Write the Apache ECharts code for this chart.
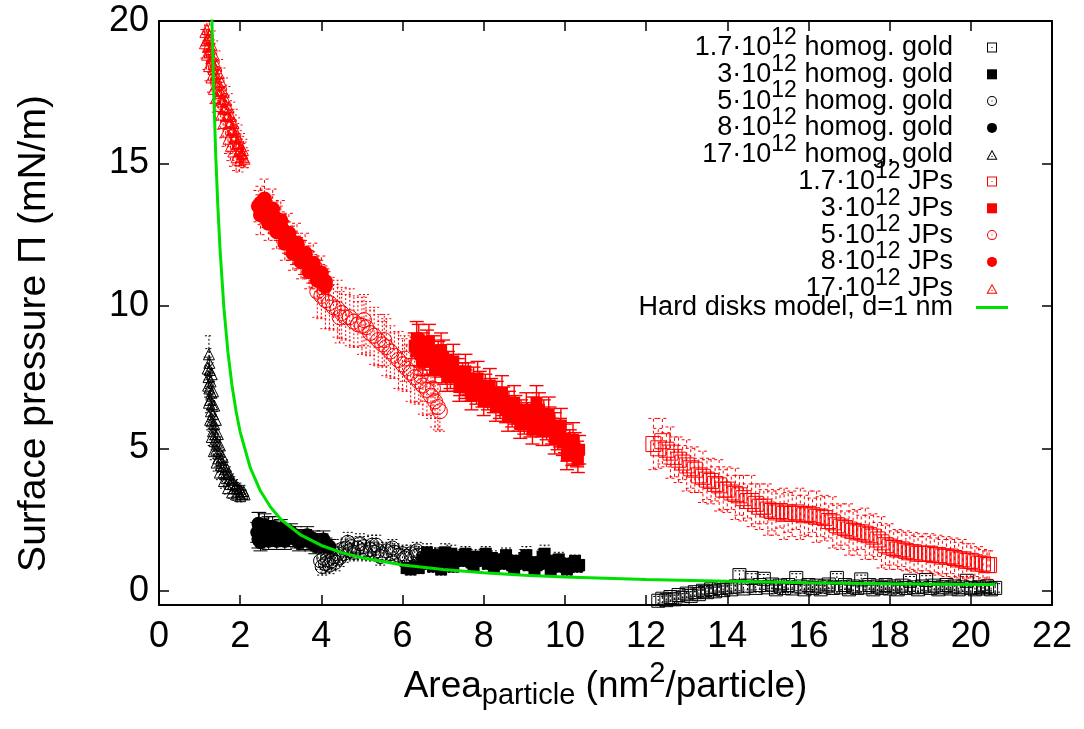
<!DOCTYPE html>
<html><head><meta charset="utf-8">
<script src="https://cdn.jsdelivr.net/npm/echarts@6/dist/echarts.min.js"></script>
<style>html,body{margin:0;padding:0;background:#fff}#c{width:1084px;height:729px}</style>
</head><body><div id="c"></div>
<script>
// ---- tick labels ----
const xTicks = [0,2,4,6,8,10,12,14,16,18,20,22];
const yTicks = [0,5,10,15,20];

// ---- series names ----
const names = [
  '1.7·10^12 homog. gold','3·10^12 homog. gold','5·10^12 homog. gold','8·10^12 homog. gold','17·10^12 homog. gold',
  '1.7·10^12 JPs','3·10^12 JPs','5·10^12 JPs','8·10^12 JPs','17·10^12 JPs'
];
const modelName = 'Hard disks model, d=1 nm';

// ---- data: [area, pressure, error] ----
const gold17 = [[1.23,8.3,0.65],[1.24,8.0,0.5],[1.25,7.75,0.45],[1.22,7.5,0.4],[1.27,7.35,0.45],[1.24,7.1,0.4],[1.29,6.95,0.4],[1.26,6.7,0.35],[1.31,6.55,0.4],[1.28,6.3,0.35],[1.33,6.2,0.35],[1.3,5.95,0.35],[1.36,5.85,0.35],[1.33,5.6,0.3],[1.39,5.5,0.35],[1.37,5.25,0.3],[1.43,5.2,0.3],[1.41,4.95,0.3],[1.48,4.9,0.3],[1.46,4.65,0.3],[1.53,4.6,0.3],[1.52,4.4,0.25],[1.59,4.38,0.3],[1.59,4.15,0.25],[1.66,4.15,0.25],[1.67,3.95,0.25],[1.74,3.95,0.25],[1.76,3.75,0.2],[1.83,3.75,0.25],[1.86,3.6,0.2],[1.92,3.6,0.2],[1.96,3.48,0.2],[2.02,3.5,0.2],[2.06,3.4,0.15],[2.11,3.38,0.15],
  [1.3,7.6,0.4],[1.33,7.0,0.35],[1.36,6.5,0.3],[1.4,6.0,0.3],[1.45,5.5,0.3],[1.5,5.1,0.3],[1.57,4.7,0.25],[1.65,4.35,0.25],[1.72,4.1,0.25],[1.8,3.9,0.2],[1.9,3.7,0.2],[1.98,3.58,0.2],[2.08,3.5,0.2],
  [1.2,7.8,0.4],[1.21,7.2,0.4],[1.23,6.6,0.35],[1.26,6.0,0.35],[1.3,5.4,0.3],[1.35,4.9,0.3],[1.42,4.5,0.3],[1.5,4.15,0.25],[1.6,3.85,0.25],[1.7,3.6,0.2],[1.8,3.45,0.2],[1.9,3.38,0.2],[2.0,3.32,0.2]];
const gold8 = [[2.42,2.05,0.35],[2.45,1.8,0.3],[2.47,2.3,0.45],[2.5,1.95,0.3],[2.55,2.15,0.4],[2.6,1.9,0.3],[2.65,2.1,0.35],[2.7,2.2,0.4],[2.75,1.95,0.3],[2.8,2.1,0.35],[2.85,1.9,0.3],[2.9,2.05,0.35],[2.95,1.85,0.3],[3.0,2.0,0.35],[3.05,1.9,0.3],[3.1,2.0,0.3],[3.15,1.85,0.3],[3.2,1.95,0.3],[3.3,1.85,0.3],[3.35,1.95,0.3],[3.4,1.8,0.3],[3.5,1.85,0.3],[3.55,1.75,0.3],[3.6,1.85,0.3],[3.7,1.75,0.3],[3.75,1.7,0.3],[3.8,1.8,0.3],[3.9,1.7,0.3],[3.95,1.65,0.3],[4.0,1.7,0.3],[4.1,1.6,0.25],[4.2,1.55,0.25],
  [2.45,2.35,0.4],[2.5,1.7,0.3],[2.6,2.3,0.4],[2.7,1.75,0.3],[2.8,2.25,0.35],[2.9,1.75,0.3],[3.0,2.15,0.35],[3.1,1.75,0.3],[3.25,2.05,0.3],[3.45,1.7,0.3],[3.65,1.95,0.3],[3.85,1.6,0.3],[4.05,1.8,0.3]];
const gold5 = [[3.98,1.05,0.3],[4.02,0.85,0.3],[4.06,1.15,0.3],[4.1,0.95,0.3],[4.15,1.1,0.3],[4.2,0.9,0.3],[4.25,1.05,0.3],[4.3,1.2,0.3],[4.35,1.0,0.3],[4.4,1.3,0.35],[4.45,1.15,0.3],[4.5,1.45,0.35],[4.55,1.3,0.3],[4.6,1.5,0.35],[4.7,1.4,0.3],[4.75,1.55,0.35],[4.8,1.35,0.3],[4.9,1.5,0.35],[5.0,1.4,0.3],[5.05,1.55,0.35],[5.1,1.35,0.3],[5.2,1.45,0.3],[5.3,1.35,0.3],[5.35,1.6,0.35],[5.4,1.4,0.3],[5.5,1.3,0.3],[5.6,1.4,0.3],[5.7,1.3,0.3],[5.8,1.35,0.3],[5.9,1.25,0.3],[6.0,1.3,0.3],[6.1,1.2,0.3],[6.2,1.3,0.3],[6.3,1.2,0.3],[6.4,1.25,0.3],[6.5,1.15,0.3],[6.6,1.25,0.3],[6.7,1.15,0.3],[6.8,1.2,0.3],[6.9,1.1,0.3],[6.95,1.2,0.3],
  [4.65,1.7,0.35],[4.95,1.65,0.35],[5.25,1.6,0.35],[5.45,1.2,0.3],[5.75,1.5,0.3],[6.05,1.15,0.3],[6.35,1.4,0.3],[6.65,1.05,0.3]];
const gold3 = [[6.1,0.8,0.2],[6.2,0.75,0.2],[6.3,0.85,0.2],[6.4,0.8,0.2],[6.5,1.1,0.25],[6.55,0.95,0.2],[6.6,1.2,0.25],[6.7,1.05,0.2],[6.8,1.25,0.25],[6.85,0.9,0.2],[6.9,1.15,0.2],[6.95,0.75,0.2],[7.0,1.1,0.2],[7.1,1.2,0.25],[7.15,1.0,0.2],[7.2,1.3,0.3],[7.3,1.1,0.2],[7.4,1.2,0.25],[7.5,1.05,0.2],[7.6,1.15,0.2],[7.7,1.0,0.2],[7.8,1.2,0.25],[7.9,1.05,0.2],[8.0,1.1,0.2],[8.1,0.95,0.2],[8.2,1.15,0.25],[8.3,1.0,0.2],[8.4,1.1,0.2],[8.5,0.95,0.2],[8.6,1.05,0.2],[8.7,0.9,0.2],[8.8,1.05,0.2],[8.9,0.95,0.2],[9.0,1.15,0.3],[9.1,0.9,0.2],[9.2,1.0,0.2],[9.3,0.9,0.2],[9.4,1.0,0.2],[9.5,1.3,0.3],[9.55,0.95,0.2],[9.6,1.05,0.2],[9.7,0.9,0.2],[9.8,0.95,0.2],[9.9,0.85,0.2],[10.0,0.95,0.2],[10.1,0.85,0.2],[10.2,0.9,0.2],[10.3,0.85,0.2],[10.35,0.9,0.2],
  [6.6,1.35,0.3],[6.75,0.85,0.2],[7.05,1.35,0.3],[7.25,0.85,0.2],[7.55,1.3,0.25],[7.75,0.85,0.2],[8.05,1.3,0.25],[8.25,0.8,0.2],[8.55,1.25,0.25],[8.75,0.8,0.2],[9.05,1.25,0.3],[9.25,0.75,0.2],[9.45,1.2,0.25],[9.65,0.75,0.2],[9.85,1.1,0.25],[10.05,0.75,0.2],[10.25,1.05,0.2]];
const gold1p7 = [[12.3,-0.35,0.15],[12.4,-0.28,0.15],[12.5,-0.33,0.15],[12.6,-0.22,0.15],[12.7,-0.3,0.15],[12.8,-0.15,0.15],[12.9,-0.25,0.15],[13.0,-0.1,0.15],[13.1,-0.18,0.15],[13.2,-0.05,0.15],[13.3,-0.12,0.15],[13.4,0.0,0.15],[13.5,-0.05,0.15],[13.6,0.05,0.15],[13.7,-0.02,0.15],[13.8,0.1,0.15],[13.9,0.02,0.15],[14.0,0.12,0.15],[14.1,0.05,0.15],[14.2,0.15,0.15],[14.3,0.55,0.15],[14.4,0.08,0.15],[14.5,0.18,0.15],[14.6,0.45,0.15],[14.7,0.1,0.15],[14.8,0.2,0.15],[14.9,0.42,0.15],[15.0,0.12,0.15],[15.1,0.22,0.15],[15.2,0.05,0.15],[15.3,0.18,0.15],[15.4,0.1,0.15],[15.5,0.2,0.15],[15.6,0.08,0.15],[15.7,0.45,0.15],[15.8,0.15,0.15],[15.9,0.05,0.15],[16.0,0.2,0.15],[16.1,0.1,0.15],[16.2,0.18,0.15],[16.3,0.05,0.15],[16.4,0.15,0.15],[16.5,0.22,0.15],[16.6,0.1,0.15],[16.7,0.45,0.15],[16.8,0.12,0.15],[16.9,0.2,0.15],[17.0,0.05,0.15],[17.1,0.15,0.15],[17.2,0.1,0.15],[17.3,0.4,0.15],[17.4,0.12,0.15],[17.5,0.2,0.15],[17.6,0.05,0.15],[17.7,0.15,0.15],[17.8,0.1,0.15],[17.9,0.2,0.15],[18.0,0.08,0.15],[18.1,0.15,0.15],[18.2,0.05,0.15],[18.3,0.18,0.15],[18.4,0.1,0.15],[18.5,0.35,0.15],[18.6,0.12,0.15],[18.7,0.05,0.15],[18.8,0.15,0.15],[18.9,0.38,0.15],[19.0,0.1,0.15],[19.1,0.18,0.15],[19.2,0.05,0.15],[19.3,0.12,0.15],[19.4,0.2,0.15],[19.5,0.08,0.15],[19.6,0.15,0.15],[19.7,0.05,0.15],[19.8,0.12,0.15],[19.9,0.35,0.15],[20.0,0.1,0.15],[20.1,0.05,0.15],[20.2,0.12,0.15],[20.3,0.08,0.15],[20.4,0.15,0.15],[20.5,0.05,0.15],[20.6,0.1,0.15]];
const jp1p7 = [[12.18,5.15,0.9],[12.3,5.0,0.7],[12.4,5.25,0.8],[12.5,4.95,0.6],[12.6,4.85,0.9],[12.7,4.7,0.7],[12.8,4.6,0.8],[12.9,4.5,0.6],[13.0,4.4,0.9],[13.1,4.3,0.7],[13.2,4.25,0.8],[13.3,4.05,0.6],[13.4,4.0,0.9],[13.5,3.9,0.7],[13.6,3.85,0.8],[13.7,3.75,0.6],[13.8,3.7,0.9],[13.9,3.55,0.7],[14.0,3.55,0.8],[14.1,3.45,0.6],[14.2,3.4,0.9],[14.3,3.35,0.7],[14.4,3.25,0.8],[14.5,3.15,0.6],[14.6,3.15,0.9],[14.7,3.05,0.7],[14.8,2.95,0.8],[14.9,2.95,0.6],[15.0,2.85,0.9],[15.1,2.8,0.7],[15.2,2.75,0.8],[15.3,2.8,0.6],[15.4,2.7,0.9],[15.5,2.75,0.7],[15.6,2.7,0.8],[15.7,2.75,0.6],[15.8,2.7,0.9],[15.9,2.65,0.7],[16.0,2.7,0.8],[16.1,2.65,0.6],[16.2,2.6,0.9],[16.3,2.6,0.7],[16.4,2.55,0.8],[16.5,2.45,0.6],[16.6,2.4,0.9],[16.7,2.3,0.7],[16.8,2.25,0.8],[16.9,2.2,0.6],[17.0,2.15,0.9],[17.1,2.1,0.7],[17.2,2.05,0.8],[17.3,2.05,0.6],[17.4,2.0,0.9],[17.5,1.95,0.7],[17.6,1.9,0.8],[17.7,1.8,0.6],[17.8,1.7,0.9],[17.9,1.6,0.7],[18.0,1.55,0.8],[18.1,1.5,0.6],[18.2,1.45,0.7],[18.3,1.45,0.6],[18.4,1.4,0.7],[18.5,1.35,0.6],[18.6,1.35,0.7],[18.7,1.3,0.6],[18.8,1.3,0.7],[18.9,1.3,0.6],[19.0,1.3,0.7],[19.1,1.25,0.6],[19.2,1.25,0.7],[19.3,1.2,0.6],[19.4,1.2,0.7],[19.5,1.2,0.6],[19.6,1.15,0.7],[19.7,1.1,0.6],[19.8,1.1,0.7],[19.9,1.05,0.6],[20.0,1.05,0.6],[20.1,1.0,0.5],[20.2,0.95,0.6],[20.3,0.95,0.5],[20.4,0.9,0.5],[20.45,0.9,0.5]];
const jp3 = [[6.3,8.6,0.45],[6.35,8.4,0.5],[6.4,8.8,0.55],[6.45,8.3,0.45],[6.5,8.55,0.5],[6.55,8.2,0.45],[6.6,8.65,0.5],[6.65,8.35,0.45],[6.7,8.1,0.5],[6.76,8.4,0.55],[6.82,8.0,0.45],[6.88,8.25,0.5],[6.94,7.95,0.45],[7.0,8.2,0.6],[7.06,7.75,0.5],[7.12,7.95,0.45],[7.18,7.6,0.5],[7.24,7.85,0.45],[7.3,7.5,0.5],[7.36,7.7,0.45],[7.42,7.35,0.5],[7.48,7.55,0.45],[7.55,7.25,0.5],[7.62,7.45,0.55],[7.68,7.1,0.45],[7.75,7.35,0.5],[7.82,7.0,0.45],[7.9,7.2,0.5],[7.97,6.9,0.45],[8.04,7.1,0.5],[8.1,6.8,0.45],[8.18,6.95,0.5],[8.25,6.7,0.45],[8.32,6.85,0.5],[8.4,6.5,0.45],[8.48,6.65,0.5],[8.55,6.35,0.45],[8.62,6.5,0.5],[8.7,6.2,0.45],[8.78,6.35,0.5],[8.85,6.05,0.45],[8.92,6.2,0.5],[9.0,5.95,0.45],[9.08,6.1,0.5],[9.15,5.85,0.45],[9.22,6.25,0.55],[9.3,6.0,0.5],[9.36,6.35,0.6],[9.42,5.9,0.5],[9.48,6.15,0.55],[9.55,5.75,0.45],[9.62,5.95,0.5],[9.68,5.6,0.45],[9.75,5.75,0.5],[9.82,5.4,0.45],[9.88,5.55,0.5],[9.95,5.2,0.45],[10.0,5.35,0.5],[10.06,5.0,0.45],[10.12,5.15,0.5],[10.18,4.85,0.45],[10.24,5.0,0.55],[10.3,4.8,0.45],[10.35,4.95,0.5],
  [6.35,8.85,0.6],[6.5,8.05,0.5],[6.65,8.75,0.6],[6.8,7.8,0.5],[6.95,8.45,0.6],[7.1,7.5,0.5],[7.25,8.05,0.6],[7.4,7.15,0.5],[7.55,7.7,0.6],[7.7,6.85,0.5],[7.85,7.45,0.6],[8.0,6.65,0.5],[8.15,7.2,0.6],[8.3,6.45,0.5],[8.45,6.95,0.6],[8.6,6.1,0.5],[8.75,6.6,0.6],[8.9,5.85,0.5],[9.05,6.35,0.6],[9.2,5.65,0.5],[9.3,6.6,0.6],[9.45,5.6,0.5],[9.6,6.2,0.6],[9.75,5.3,0.5],[9.9,5.8,0.6],[10.05,4.75,0.5],[10.2,5.3,0.6],[10.32,4.6,0.45]];
const jp5 = [[3.9,10.5,0.9],[4.0,10.35,0.8],[4.1,10.2,1.0],[4.2,10.1,0.9],[4.3,9.95,0.8],[4.4,9.9,1.0],[4.45,9.6,0.9],[4.5,9.75,0.9],[4.6,9.6,0.8],[4.7,9.6,1.0],[4.8,9.45,0.9],[4.9,9.35,0.8],[5.0,9.3,1.0],[5.05,9.5,0.9],[5.1,9.25,0.9],[5.2,9.05,0.8],[5.3,8.95,1.0],[5.4,8.8,0.9],[5.5,8.65,0.8],[5.55,8.8,0.9],[5.6,8.55,1.0],[5.7,8.4,0.9],[5.8,8.25,0.8],[5.9,8.1,1.0],[6.0,7.95,0.9],[6.05,8.15,0.8],[6.1,7.8,0.8],[6.2,7.65,1.0],[6.3,7.5,0.9],[6.4,7.35,0.8],[6.45,7.55,0.9],[6.5,7.2,1.0],[6.6,7.05,0.9],[6.7,6.85,0.8],[6.75,7.1,0.9],[6.8,6.65,0.9],[6.87,6.45,0.8],[6.92,6.3,0.7]];
const jp8 = [[2.45,13.5,0.55],[2.5,13.6,0.6],[2.55,13.35,0.5],[2.6,13.5,0.6],[2.65,13.3,0.55],[2.7,13.2,0.5],[2.75,13.3,0.6],[2.8,13.05,0.5],[2.85,13.1,0.55],[2.9,12.95,0.5],[2.95,12.9,0.6],[3.0,12.8,0.5],[3.05,12.65,0.55],[3.1,12.5,0.5],[3.15,12.4,0.55],[3.2,12.3,0.5],[3.25,12.2,0.6],[3.3,12.1,0.5],[3.35,12.0,0.55],[3.4,11.95,0.5],[3.45,11.85,0.55],[3.5,11.8,0.5],[3.55,11.7,0.6],[3.6,11.6,0.5],[3.65,11.55,0.55],[3.7,11.45,0.5],[3.75,11.35,0.55],[3.8,11.3,0.5],[3.85,11.2,0.55],[3.9,11.1,0.5],[3.95,11.05,0.55],[4.0,10.95,0.5],[4.05,10.9,0.5],[4.1,10.85,0.45],
  [2.5,13.2,0.7],[2.6,13.75,0.7],[2.7,12.9,0.6],[2.8,13.4,0.7],[2.9,12.6,0.6],[3.0,13.0,0.7],[3.1,12.2,0.6],[3.2,12.55,0.7],[3.3,11.85,0.6],[3.4,12.2,0.7],[3.5,11.55,0.6],[3.6,11.85,0.7],[3.7,11.2,0.6],[3.8,11.5,0.7],[3.9,10.9,0.6],[4.0,11.15,0.6],[4.1,10.7,0.5]];
const jp17 = [[1.13,19.6,0.45],[1.16,19.3,0.4],[1.18,19.7,0.5],[1.2,19.1,0.4],[1.22,19.4,0.45],[1.24,18.9,0.4],[1.26,19.0,0.5],[1.28,18.6,0.4],[1.3,18.75,0.45],[1.33,18.3,0.4],[1.35,18.45,0.5],[1.38,18.0,0.4],[1.4,18.15,0.45],[1.43,17.75,0.4],[1.46,17.85,0.5],[1.49,17.45,0.4],[1.52,17.55,0.45],[1.55,17.15,0.4],[1.58,17.25,0.5],[1.61,16.9,0.4],[1.64,16.95,0.45],[1.67,16.65,0.4],[1.7,16.7,0.5],[1.73,16.4,0.4],[1.76,16.45,0.45],[1.79,16.15,0.4],[1.82,16.2,0.5],[1.85,15.9,0.4],[1.88,15.95,0.45],[1.91,15.65,0.4],[1.94,15.7,0.45],[1.97,15.45,0.4],[2.0,15.5,0.45],[2.03,15.3,0.4],[2.06,15.35,0.4],[2.09,15.2,0.35],[2.12,15.15,0.3],
  [1.12,19.2,0.5],[1.17,18.8,0.5],[1.22,18.4,0.5],[1.28,18.0,0.5],[1.34,17.6,0.5],[1.4,17.3,0.5],[1.46,17.0,0.5],[1.52,16.7,0.5],[1.58,16.4,0.5],[1.64,16.1,0.5],[1.7,15.85,0.5],[1.76,15.6,0.5],[1.82,15.4,0.5],[1.9,15.2,0.45],[1.98,15.1,0.4],
  [1.24,19.5,0.5],[1.3,19.15,0.5],[1.36,18.8,0.5],[1.42,18.45,0.5],[1.48,18.15,0.5],[1.54,17.85,0.5],[1.6,17.5,0.5],[1.66,17.2,0.5],[1.72,16.95,0.5],[1.78,16.65,0.5],[1.84,16.4,0.5],[1.9,16.1,0.5],[1.96,15.85,0.5],[2.02,15.6,0.45],[2.08,15.45,0.4]];
// hard disks model curve
const modelX = [1.28,1.3,1.35,1.4,1.45,1.5,1.6,1.7,1.8,1.9,2.0,2.25,2.5,2.75,3,3.5,4,4.5,5,6,7,8,9,10,12,14,16,18,20,20.6];
const modelY = [21.5,20.2,17.4,15.2,13.5,12.07,9.91,8.35,7.19,6.29,5.57,4.31,3.5,2.93,2.51,1.95,1.59,1.34,1.157,0.907,0.745,0.632,0.548,0.484,0.392,0.33,0.284,0.25,0.223,0.216];

const FONT = 'Liberation Sans';
const RED = '#ff0000', BLK = '#000000', GREEN = '#00e000';
const ICON_SQ = 'path://M0,0L20,0L20,20L0,20Z M2,2L2,18L18,18L18,2Z M9,9L11,9L11,11L9,11Z';
const ICON_CI = 'path://M10,0A10,10,0,1,1,10,20A10,10,0,1,1,10,0Z M10,2A8,8,0,1,0,10,18A8,8,0,1,0,10,2Z M9,9L11,9L11,11L9,11Z';
const ICON_TR = 'path://M10,0L20,18L0,18Z M10,3.8L3.1,16.4L16.9,16.4Z M9,11L11,11L11,13L9,13Z';
const ICON_FSQ = 'path://M0,0L20,0L20,20L0,20Z';
const ICON_LINE = 'path://M0,0L32,0L32,3L0,3Z';

const defs = [
  {name:names[0], data:gold1p7, color:BLK, symbol:'rect', size:13, filled:false, dash:[2,2], cap:5, lw:1, icon:ICON_SQ},
  {name:names[1], data:gold3, color:BLK, symbol:'rect', size:12, filled:true, dash:[2,2], cap:5, lw:1, icon:ICON_FSQ},
  {name:names[2], data:gold5, color:BLK, symbol:'circle', size:14, filled:false, dash:[2,2], cap:5, lw:1, icon:ICON_CI},
  {name:names[3], data:gold8, color:BLK, symbol:'circle', size:14, filled:true, dash:null, cap:7, lw:1, icon:'circle'},
  {name:names[4], data:gold17, color:BLK, symbol:'triangle', size:11, filled:false, dash:[2,2], cap:4, lw:1, icon:ICON_TR},
  {name:names[5], data:jp1p7, color:RED, symbol:'rect', size:15, filled:false, dash:[3,3], cap:5, lw:1, icon:ICON_SQ},
  {name:names[6], data:jp3, color:RED, symbol:'rect', size:12, filled:true, dash:null, cap:7, lw:1.4, icon:ICON_FSQ},
  {name:names[7], data:jp5, color:RED, symbol:'circle', size:15, filled:false, dash:[2,2], cap:5, lw:1, icon:ICON_CI},
  {name:names[8], data:jp8, color:RED, symbol:'circle', size:15, filled:true, dash:[3,3], cap:5, lw:1, icon:'circle'},
  {name:names[9], data:jp17, color:RED, symbol:'triangle', size:10, filled:false, dash:[3,3], cap:4, lw:1, icon:ICON_TR}
];

function errSeries(d) {
  return {
    type:'custom', name:d.name + ' err', silent:true, clip:true, animation:false,
    data:d.data, encode:{x:0, y:1},
    renderItem:function(params, api){
      const x = api.value(0), y = api.value(1), e = api.value(2);
      const lo = api.coord([x, y - e]), hi = api.coord([x, y + e]);
      const st = {stroke:d.color, lineWidth:d.lw, lineDash:d.dash || null, fill:null};
      return {type:'group', children:[
        {type:'line', shape:{x1:lo[0], y1:lo[1], x2:hi[0], y2:hi[1]}, style:st},
        {type:'line', shape:{x1:lo[0]-d.cap, y1:lo[1], x2:lo[0]+d.cap, y2:lo[1]}, style:st},
        {type:'line', shape:{x1:hi[0]-d.cap, y1:hi[1], x2:hi[0]+d.cap, y2:hi[1]}, style:st}
      ]};
    }
  };
}

const series = [];
defs.forEach(function(d){
  series.push(errSeries(d));
  series.push({
    type:'scatter', name:d.name, data:d.data, symbol:d.symbol, symbolSize:d.size, silent:true, animation:false,
    itemStyle: d.filled ? {color:d.color, borderWidth:0, opacity:1} : {color:'rgba(0,0,0,0)', borderColor:d.color, borderWidth:1, opacity:1}
  });
});
series.push({
  type:'line', name:modelName, data:modelX.map(function(x,i){return [x, modelY[i]];}),
  symbol:'none', showSymbol:false, smooth:false, silent:true, animation:false, clip:true,
  lineStyle:{color:GREEN, width:3}, itemStyle:{color:GREEN}
});

const legendData = defs.map(function(d){
  return {name:d.name, icon:d.icon, itemStyle:{color:d.color, borderWidth:0, opacity:1}};
});
legendData.push({name:modelName, icon:ICON_LINE, itemStyle:{color:GREEN, borderWidth:0, opacity:1}});

const axisLine = {show:true, onZero:false, lineStyle:{color:'#000', width:2}};
const tick = function(vals){ return {show:true, inside:true, length:10, customValues:vals, lineStyle:{color:'#000', width:1.5}}; };

const chart = echarts.init(document.getElementById('c'), null, {renderer:'canvas'});
chart.setOption({
  animation:false,
  backgroundColor:'#ffffff',
  grid:{left:159, right:32, top:21, bottom:124, containLabel:false, outerBoundsMode:'none'},
  legend:{
    show:true, orient:'vertical', right:76, top:26, padding:0, itemGap:-16.2,
    itemWidth:32, itemHeight:10, align:'right', symbolKeepAspect:true, selectedMode:false,
    data:legendData,
    formatter:function(name){
      const p = name.split('^12');
      return p.length > 1 ? '{m|' + p[0] + '}{s|12}{m|' + p[1] + '}' : '{m|' + name + '}';
    },
    textStyle:{color:'#000', fontFamily:FONT, fontSize:27, padding:[0,18,0,0],
      rich:{
        m:{fontFamily:FONT, fontSize:27, lineHeight:26, color:'#000'},
        s:{fontFamily:FONT, fontSize:23, lineHeight:6, padding:[0,0,20,0], color:'#000'}
      }}
  },
  xAxis:[
    {type:'value', min:0, max:22, position:'bottom', gridIndex:0,
     axisLine:axisLine, axisTick:tick(xTicks), splitLine:{show:false}, minorTick:{show:false},
     axisLabel:{show:true, customValues:xTicks, color:'#000', fontFamily:FONT, fontSize:36, margin:14},
     name:'{m|Area}{sub|particle}{m| (nm}{sup|2}{m|/particle)}', nameLocation:'middle', nameGap:56,
     nameTextStyle:{color:'#000', fontFamily:FONT, fontSize:37,
       rich:{
         m:{fontFamily:FONT, fontSize:37, lineHeight:40, color:'#000'},
         sub:{fontFamily:FONT, fontSize:29, lineHeight:20, padding:[20,0,0,0], color:'#000'},
         sup:{fontFamily:FONT, fontSize:29, lineHeight:16, padding:[0,0,24,0], color:'#000'}
       }}},
    {type:'value', min:0, max:22, position:'top', gridIndex:0,
     axisLine:axisLine, axisTick:tick(xTicks), axisLabel:{show:false}, splitLine:{show:false}}
  ],
  yAxis:[
    {type:'value', min:-0.5, max:20, position:'left', gridIndex:0,
     axisLine:axisLine, axisTick:tick(yTicks), splitLine:{show:false}, minorTick:{show:false},
     axisLabel:{show:true, customValues:yTicks, color:'#000', fontFamily:FONT, fontSize:36, margin:10},
     name:'Surface pressure Π (mN/m)', nameLocation:'middle', nameGap:105,
     nameTextStyle:{color:'#000', fontFamily:FONT, fontSize:39, padding:[0,41,0,0]}},
    {type:'value', min:-0.5, max:20, position:'right', gridIndex:0,
     axisLine:axisLine, axisTick:tick(yTicks), axisLabel:{show:false}, splitLine:{show:false}}
  ],
  series:series
});
</script>
</body></html>
